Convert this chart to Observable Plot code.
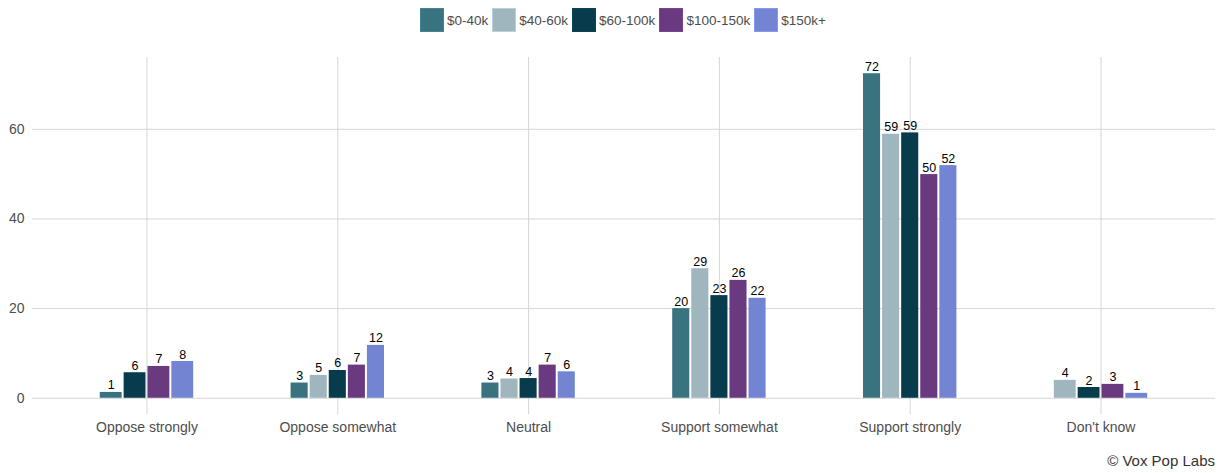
<!DOCTYPE html>
<html>
<head>
<meta charset="utf-8">
<script src="https://cdn.jsdelivr.net/npm/d3@7"></script>
<script src="https://cdn.jsdelivr.net/npm/@observablehq/plot@0.6"></script>
<style>
  html, body { margin: 0; padding: 0; background: #fff; }
  body { width: 1225px; height: 473px; font-family: "Liberation Sans", Arial, sans-serif; position: relative; overflow: hidden; }
  #legend { position: absolute; top: 8px; left: 420px; display: flex; align-items: center; height: 24px; font-size: 13.5px; color: #4d4d4d; }
  .item { display: flex; align-items: center; margin-right: 4px; }
  .sw { width: 24px; height: 24px; margin-right: 3px; box-sizing: border-box; }
  #chart { position: absolute; top: 40px; left: 0; }
  #caption { position: absolute; right: 10px; top: 452px; font-size: 15px; color: #333; }
</style>
</head>
<body>
<div id="legend"></div>
<div id="chart"></div>
<div id="caption">© Vox Pop Labs</div>
<script>
const categories = ["Oppose strongly", "Oppose somewhat", "Neutral", "Support somewhat", "Support strongly", "Don't know"];
const incomes = ["$0-40k", "$40-60k", "$60-100k", "$100-150k", "$150k+"];
const colors = ["#38737f", "#9fb6bf", "#083b4c", "#6a3a80", "#7384d2"];
const v0_40k    = [1.3, 3.4, 3.4, 20.0, 72.4, null];
const v40_60k   = [null, 5.1, 4.3, 28.9, 58.9, 4.0];
const v60_100k  = [5.7, 6.2, 4.4, 22.9, 59.2, 2.4];
const v100_150k = [7.1, 7.4, 7.4, 26.3, 49.9, 3.1];
const v150k     = [8.2, 11.8, 5.9, 22.3, 51.9, 1.1];
const series = [v0_40k, v40_60k, v60_100k, v100_150k, v150k];
const yTicks = [0, 20, 40, 60];

// build dodged rows (ggplot-style dodge: missing series collapse)
const rows = [];
const groupWidth = 0.5;
categories.forEach((cat, ci) => {
  const present = incomes.map((inc, si) => ({inc, si, v: series[si][ci]})).filter(d => d.v != null);
  const n = present.length;
  const w = groupWidth / n;
  present.forEach((d, k) => {
    const x1 = ci - groupWidth / 2 + k * w;
    rows.push({category: cat, income: d.inc, value: d.v, x1, x2: x1 + w, xm: x1 + w / 2, label: String(Math.round(d.v))});
  });
});

const maxV = d3.max(rows, d => d.value);
const pad = maxV * 0.05;

const plot = Plot.plot({
  width: 1225,
  height: 405,
  marginLeft: 32,
  marginRight: 10,
  marginTop: 17,
  marginBottom: 31,
  style: {fontFamily: "'Liberation Sans', Arial, sans-serif", fontSize: "14px", color: "#4d4d4d", background: "#fff"},
  x: {domain: [-0.6, categories.length - 0.4], axis: null},
  y: {domain: [-pad, maxV + pad], axis: null},
  color: {domain: incomes, range: colors},
  marks: [
    Plot.gridX(d3.range(categories.length), {stroke: "#d6d6d6", strokeOpacity: 1, strokeWidth: 1}),
    Plot.gridY(yTicks, {stroke: "#d6d6d6", strokeOpacity: 1, strokeWidth: 1}),
    Plot.rectY(rows, {x1: "x1", x2: "x2", y1: 0, y2: "value", fill: "income", insetLeft: 1, insetRight: 1}),
    Plot.text(rows, {x: "xm", y: "value", text: "label", dy: -7, fill: "#000", fontSize: 12.5}),
    Plot.axisX(d3.range(categories.length), {tickSize: 0, tickPadding: 8, tickFormat: i => categories[i], fontSize: 14, fill: "#4d4d4d", anchor: "bottom", label: null}),
    Plot.axisY(yTicks, {tickSize: 0, tickPadding: 8, fontSize: 14, fill: "#4d4d4d", anchor: "left", label: null})
  ]
});
document.getElementById("chart").appendChild(plot);

const legend = document.getElementById("legend");
incomes.forEach((inc, i) => {
  const item = document.createElement("div");
  item.className = "item";
  const sw = document.createElement("div");
  sw.className = "sw";
  sw.style.background = colors[i];
  sw.style.border = "1px solid " + d3.color(colors[i]).brighter(0.4);
  const t = document.createElement("span");
  t.textContent = inc;
  item.appendChild(sw);
  item.appendChild(t);
  legend.appendChild(item);
});
</script>
</body>
</html>
